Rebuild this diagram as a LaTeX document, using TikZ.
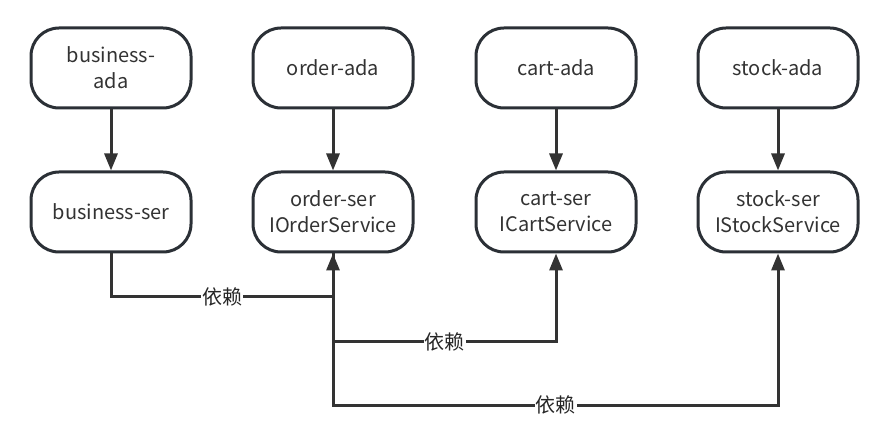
\documentclass[tikz,border=0pt]{standalone}
\usepackage{fontspec}
\setmainfont{Noto Sans CJK SC}
\usetikzlibrary{arrows.meta}
\definecolor{boxline}{HTML}{2B3036}
\definecolor{edgecol}{HTML}{333333}
\begin{document}
\begin{tikzpicture}[x=1pt,y=-1pt,
  box/.style={draw=boxline,line width=3pt,rounded corners=28pt,minimum width=160pt,minimum height=80pt,align=center,font=\fontsize{20}{26}\selectfont,text=black!80,inner sep=2pt},
  edge/.style={draw=edgecol,line width=3pt,-{Triangle[length=17pt,width=13pt]}},
  lbl/.style={fill=white,font=\fontsize{20}{22}\selectfont,inner sep=1pt,text=black!85}]
\useasboundingbox (0,0) rectangle (894,443);
\node[box] (ba) at (111,68) {business-\\ada};
\node[box] (oa) at (333,68) {order-ada};
\node[box] (ca) at (556,68) {cart-ada};
\node[box] (sa) at (778,68) {stock-ada};
\node[box] (bs) at (111,212) {business-ser};
\node[box] (os) at (333,212) {order-ser\\IOrderService};
\node[box] (cs) at (556,212) {cart-ser\\ICartService};
\node[box] (ss) at (778,212) {stock-ser\\IStockService};
\draw[edge] (ba) -- (bs);
\draw[edge] (oa) -- (os);
\draw[edge] (ca) -- (cs);
\draw[edge] (sa) -- (ss);
\coordinate (b1) at (111,297);
\coordinate (b2) at (333,297);
\coordinate (c1) at (333,342);
\coordinate (c2) at (556,342);
\coordinate (s1) at (333,405);
\coordinate (s2) at (778,405);
\draw[edge] (bs.south) -- (b1) -- node[lbl,pos=0.5]{依赖} (b2) -- (os.south);
\draw[edge] (os.south) -- (c1) -- node[lbl,pos=0.5]{依赖} (c2) -- (cs.south);
\draw[edge] (os.south) -- (s1) -- node[lbl,pos=0.5]{依赖} (s2) -- (ss.south);
\end{tikzpicture}
\end{document}
